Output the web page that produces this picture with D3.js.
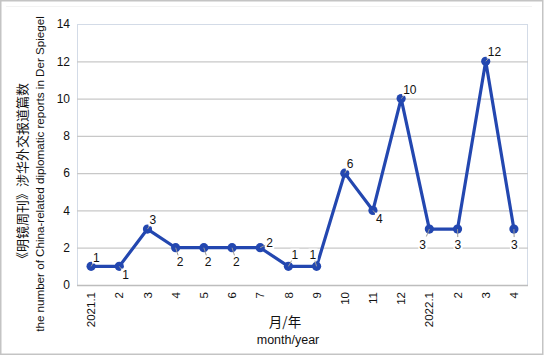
<!DOCTYPE html>
<html>
<head>
<meta charset="utf-8">
<script src="https://cdn.jsdelivr.net/npm/d3@7"></script>
<style>
  html, body { margin: 0; padding: 0; background: #fff; }
  svg { display: block; font-family: "Liberation Sans", Arial, "Noto Sans CJK SC", sans-serif; }
</style>
</head>
<body>
<div id="chart"></div>
<script>
// month/year categories and report counts
const categories = ['2021.1', '2', '3', '4', '5', '6', '7', '8', '9', '10', '11', '12', '2022.1', '2 ', '3 ', '4 '];
const counts = [1, 1, 3, 2, 2, 2, 2, 1, 1, 6, 4, 10, 3, 3, 12, 3];
const yTicks = [0, 2, 4, 6, 8, 10, 12, 14];
// where each data label sits relative to its point
const labelPlacement = ['ne', 'se', 'ne', 's', 's', 's', 'e', 'n', 'nw', 'ne', 'se', 'ne', 'sw', 's2', 'ne', 's2'];
const yTitleCn = '《明镜周刊》涉华外交报道篇数';
const yTitleEn = 'the number of China-related diplomatic reports in Der Spiegel';
const xTitleCn = '月/年';
const xTitleEn = 'month/year';

const width = 544, height = 356;
const margin = { top: 24, right: 16, bottom: 71, left: 77 };
const lineColor = '#2347b0';

const svg = d3.select('#chart').append('svg')
  .attr('width', width)
  .attr('height', height);

// outer frame
svg.append('rect')
  .attr('x', 0.75).attr('y', 0.75)
  .attr('width', width - 2).attr('height', height - 2.5)
  .attr('fill', '#fff')
  .attr('stroke', '#c4c4c4')
  .attr('stroke-width', 1.5);
svg.append('line')
  .attr('x1', 6).attr('x2', 532).attr('y1', 6.5).attr('y2', 6.5)
  .attr('stroke', '#f3f3f3');

const x = d3.scaleBand().domain(categories).range([margin.left, width - margin.right]);
const y = d3.scaleLinear().domain([0, 14]).range([height - margin.bottom, margin.top]);
const cx = d => x(d) + x.bandwidth() / 2;

// plot area border
svg.append('rect')
  .attr('x', margin.left + 0.5).attr('y', margin.top + 0.5)
  .attr('width', width - margin.right - margin.left - 1)
  .attr('height', height - margin.bottom - margin.top)
  .attr('fill', 'none')
  .attr('stroke', '#d3dbe7');

// Y axis with gridlines
const yAxis = svg.append('g')
  .attr('transform', `translate(${margin.left},0)`)
  .call(d3.axisLeft(y).tickValues(yTicks).tickSize(-(width - margin.left - margin.right)).tickPadding(7));
yAxis.select('.domain').remove();
yAxis.selectAll('.tick line')
  .attr('stroke', d => d === 14 ? 'none' : (d === 0 ? '#bdbdbd' : '#c8c8c8'))
  .attr('stroke-width', d => d === 0 ? 1.5 : 1.2);
yAxis.selectAll('.tick text')
  .attr('font-size', 12)
  .attr('fill', '#111');

// X axis, rotated labels
const xAxis = svg.append('g')
  .attr('transform', `translate(0,${height - margin.bottom})`)
  .call(d3.axisBottom(x).tickSize(0).tickPadding(0));
xAxis.select('.domain').remove();
xAxis.selectAll('.tick text')
  .attr('font-size', 11.5)
  .attr('fill', '#111')
  .attr('text-anchor', 'end')
  .attr('transform', 'rotate(-90)')
  .attr('x', -7)
  .attr('y', 0)
  .attr('dy', '0.36em')
  .text(d => d.trim());

// line + markers
const line = d3.line().x((d, i) => cx(categories[i])).y(d => y(d));
svg.append('path')
  .datum(counts)
  .attr('d', line)
  .attr('fill', 'none')
  .attr('stroke', lineColor)
  .attr('stroke-width', 3.2)
  .attr('stroke-linejoin', 'round');
svg.selectAll('.pt')
  .data(counts)
  .join('circle')
  .attr('class', 'pt')
  .attr('cx', (d, i) => cx(categories[i]))
  .attr('cy', d => y(d))
  .attr('r', 4.6)
  .attr('fill', lineColor);

// data labels
const offsets = {
  ne: [2, -9], se: [3, 8], s: [1, 14], e: [6, -5],
  n: [3, -12], nw: [-7, -12], sw: [-10, 16], s2: [-3, 16]
};
const labels = svg.append('g');
counts.forEach((v, i) => {
  const px = cx(categories[i]), py = y(v);
  const [dx, dy] = offsets[labelPlacement[i]];
  const t = labels.append('text')
    .attr('x', px + dx).attr('y', py + dy)
    .attr('dy', '0.35em')
    .attr('font-size', 12)
    .attr('fill', '#111')
    .text(v);
  const bb = t.node().getBBox();
  labels.insert('rect', 'text')
    .attr('x', bb.x - 1).attr('y', bb.y + 1)
    .attr('width', bb.width + 2).attr('height', bb.height - 2)
    .attr('fill', '#fff');
  // short leader towards the label
  const lx = bb.x + bb.width / 2 - px, ly = bb.y + bb.height / 2 - py;
  const len = Math.hypot(lx, ly) || 1;
  svg.append('line')
    .attr('x1', px).attr('y1', py)
    .attr('x2', px + lx / len * 8).attr('y2', py + ly / len * 8)
    .attr('stroke', '#9a9a9a')
    .attr('stroke-width', 1);
});
labels.raise();

// axis titles
svg.append('text')
  .attr('transform', 'translate(22,174) rotate(-90)')
  .attr('text-anchor', 'middle')
  .attr('dy', '0.35em')
  .attr('font-size', 13)
  .attr('font-family', '"Noto Sans CJK SC", sans-serif')
  .attr('fill', '#111')
  .text(yTitleCn);
const enTitle = svg.append('text')
  .attr('transform', 'translate(40,174) rotate(-90)')
  .attr('text-anchor', 'middle')
  .attr('dy', '0.35em')
  .attr('font-size', 12.5)
  .attr('fill', '#111')
  .text(yTitleEn);
// the reference fits this title into ~316px, so shrink the font to match
const enLen = enTitle.node().getComputedTextLength();
if (enLen > 316) enTitle.attr('font-size', 12.5 * 316 / enLen);
svg.append('text')
  .attr('x', 285).attr('y', 322)
  .attr('text-anchor', 'middle')
  .attr('dy', '0.35em')
  .attr('font-size', 13.5)
  .attr('font-family', '"Noto Sans CJK SC", sans-serif')
  .attr('fill', '#111')
  .text(xTitleCn);
svg.append('text')
  .attr('x', 288).attr('y', 340)
  .attr('text-anchor', 'middle')
  .attr('dy', '0.35em')
  .attr('font-size', 12.5)
  .attr('fill', '#111')
  .text(xTitleEn);
</script>
</body>
</html>
